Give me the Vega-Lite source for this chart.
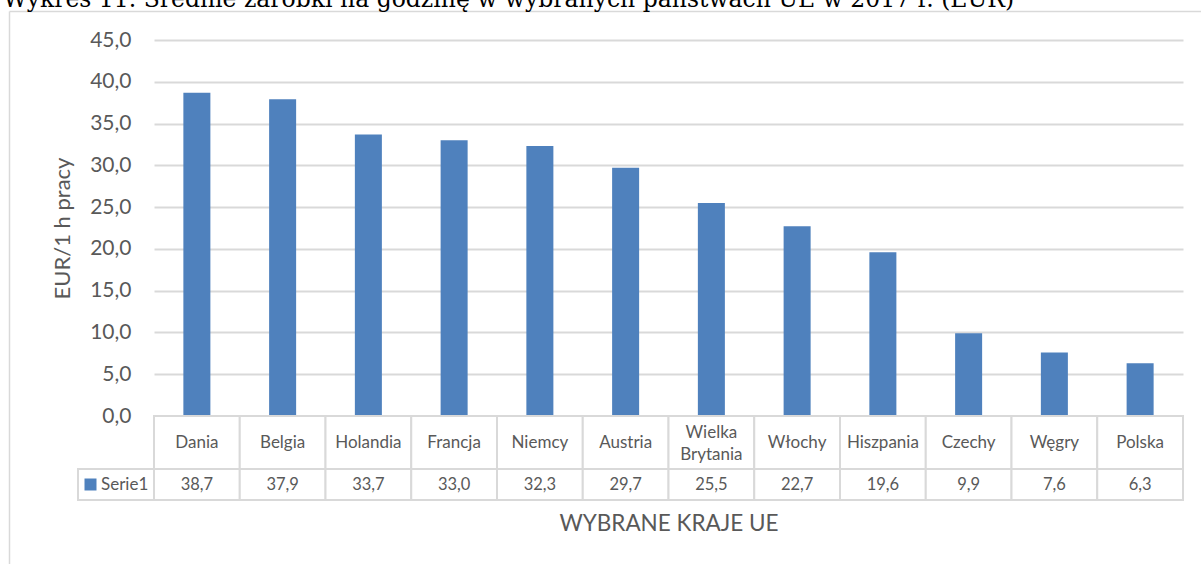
{
  "$schema": "https://vega.github.io/schema/vega-lite/v6.json",
  "width": 1029,
  "height": 376,
  "autosize": {"type": "none"},
  "padding": {"left": 154, "top": 40, "right": 18, "bottom": 148},
  "background": "white",
  "config": {
    "font": "Lato",
    "view": {"stroke": null},
    "locale": {"number": {"decimal": ",", "thousands": " ", "grouping": [3], "currency": ["", " €"]}}
  },
  "title": {
    "text": "Wykres 11. Średnie zarobki na godzinę w wybranych państwach UE w 2017 r. (EUR)",
    "font": "DejaVu Serif",
    "fontSize": 23.5,
    "fontWeight": "normal",
    "color": "#000000",
    "anchor": "start",
    "frame": "group",
    "baseline": "alphabetic",
    "dx": -151,
    "dy": 25,
    "offset": 3
  },
  "data": {
    "values": [
      {"kraj": "Dania", "wartosc": 38.7, "seria": "Serie1"},
      {"kraj": "Belgia", "wartosc": 37.9, "seria": "Serie1"},
      {"kraj": "Holandia", "wartosc": 33.7, "seria": "Serie1"},
      {"kraj": "Francja", "wartosc": 33.0, "seria": "Serie1"},
      {"kraj": "Niemcy", "wartosc": 32.3, "seria": "Serie1"},
      {"kraj": "Austria", "wartosc": 29.7, "seria": "Serie1"},
      {"kraj": "Wielka Brytania", "wartosc": 25.5, "seria": "Serie1"},
      {"kraj": "Włochy", "wartosc": 22.7, "seria": "Serie1"},
      {"kraj": "Hiszpania", "wartosc": 19.6, "seria": "Serie1"},
      {"kraj": "Czechy", "wartosc": 9.9, "seria": "Serie1"},
      {"kraj": "Węgry", "wartosc": 7.6, "seria": "Serie1"},
      {"kraj": "Polska", "wartosc": 6.3, "seria": "Serie1"}
    ]
  },
  "resolve": {"scale": {"x": "independent", "y": "independent", "color": "independent"}},
  "layer": [
    {
      "mark": {"type": "point", "opacity": 0},
      "data": {"values": [{"seria": "Serie1"}]},
      "encoding": {
        "x": {"datum": 0, "type": "quantitative", "scale": {"domain": [0, 1], "range": [-145, 1100]},
          "axis": {"orient": "top", "offset": 29, "labels": false, "ticks": false, "grid": false, "domainColor": "#d9d9d9", "domainWidth": 1.5, "title": null}},
        "y": {"datum": 0, "type": "quantitative", "scale": {"domain": [0, 1], "range": [-29, 600]},
          "axis": {"orient": "left", "offset": 145, "labels": false, "ticks": false, "grid": false, "domainColor": "#d9d9d9", "domainWidth": 1.5, "title": null}}
      }
    },
    {
      "mark": {"type": "bar", "width": {"band": 0.315}},
      "encoding": {
        "x": {"field": "kraj", "type": "nominal", "sort": null, "scale": {"type": "band", "paddingInner": 0, "paddingOuter": 0}, "axis": null},
        "y": {"field": "wartosc", "type": "quantitative", "scale": {"domain": [0, 45]},
          "axis": {"orient": "left", "values": [0, 5, 10, 15, 20, 25, 30, 35, 40, 45], "format": ".1f", "grid": true, "gridColor": "#d9d9d9", "gridWidth": 2,
            "domain": false, "ticks": false, "labelFontSize": 21, "labelColor": "#595959", "labelPadding": 23,
            "title": "EUR/1 h pracy", "titleFontSize": 22, "titleFontWeight": "normal", "titleColor": "#595959", "titlePadding": 15}},
        "color": {"field": "seria", "type": "nominal", "scale": {"range": ["#4f81bd"]},
          "legend": {"orient": "none", "legendX": -72, "legendY": 436, "title": null, "padding": 0, "symbolType": "square", "symbolSize": 144,
            "symbolStrokeWidth": 0, "labelFontSize": 17, "labelColor": "#595959", "labelOffset": 2}}
      }
    },
    {
      "mark": {"type": "rect", "fill": "white", "stroke": "#d9d9d9", "strokeWidth": 2},
      "encoding": {
        "x": {"field": "kraj", "type": "nominal", "sort": null, "scale": {"type": "band", "paddingInner": 0, "paddingOuter": 0},
          "axis": {"orient": "bottom", "labels": false, "ticks": false, "domain": false, "grid": false, "title": "WYBRANE KRAJE UE",
            "titleFontSize": 22.5, "titleFontWeight": "normal", "titleColor": "#595959", "titlePadding": 96}},
        "y": {"datum": "kraj", "type": "nominal", "scale": {"type": "band", "domain": ["kraj"], "range": [376, 429], "paddingInner": 0, "paddingOuter": 0}, "axis": null}
      }
    },
    {
      "transform": [{"filter": "indexof(datum.kraj, ' ') < 0"}],
      "mark": {"type": "text", "fontSize": 17, "color": "#595959", "baseline": "middle"},
      "encoding": {
        "x": {"field": "kraj", "type": "nominal", "sort": null, "scale": {"type": "band", "domain": ["Dania", "Belgia", "Holandia", "Francja", "Niemcy", "Austria", "Wielka Brytania", "Włochy", "Hiszpania", "Czechy", "Węgry", "Polska"], "paddingInner": 0, "paddingOuter": 0}, "axis": null},
        "y": {"datum": "kraj", "type": "nominal", "scale": {"type": "band", "domain": ["kraj"], "range": [376, 429], "paddingInner": 0, "paddingOuter": 0}, "axis": null},
        "text": {"field": "kraj"}
      }
    },
    {
      "transform": [{"filter": "indexof(datum.kraj, ' ') >= 0"}],
      "mark": {"type": "text", "fontSize": 17, "color": "#595959", "baseline": "middle", "lineBreak": " ", "lineHeight": 22, "dy": -10},
      "encoding": {
        "x": {"field": "kraj", "type": "nominal", "sort": null, "scale": {"type": "band", "domain": ["Dania", "Belgia", "Holandia", "Francja", "Niemcy", "Austria", "Wielka Brytania", "Włochy", "Hiszpania", "Czechy", "Węgry", "Polska"], "paddingInner": 0, "paddingOuter": 0}, "axis": null},
        "y": {"datum": "kraj", "type": "nominal", "scale": {"type": "band", "domain": ["kraj"], "range": [376, 429], "paddingInner": 0, "paddingOuter": 0}, "axis": null},
        "text": {"field": "kraj"}
      }
    },
    {
      "mark": {"type": "rect", "fill": "white", "stroke": "#d9d9d9", "strokeWidth": 2},
      "encoding": {
        "x": {"field": "kraj", "type": "nominal", "sort": null, "scale": {"type": "band", "paddingInner": 0, "paddingOuter": 0}, "axis": null},
        "y": {"datum": "wartosc", "type": "nominal", "scale": {"type": "band", "domain": ["wartosc"], "range": [429, 460], "paddingInner": 0, "paddingOuter": 0}, "axis": null}
      }
    },
    {
      "mark": {"type": "text", "fontSize": 16.5, "color": "#595959", "baseline": "middle"},
      "encoding": {
        "x": {"field": "kraj", "type": "nominal", "sort": null, "scale": {"type": "band", "paddingInner": 0, "paddingOuter": 0}, "axis": null},
        "y": {"datum": "wartosc", "type": "nominal", "scale": {"type": "band", "domain": ["wartosc"], "range": [429, 460], "paddingInner": 0, "paddingOuter": 0}, "axis": null},
        "text": {"field": "wartosc", "type": "quantitative", "format": ".1f"}
      }
    },
    {
      "mark": {"type": "rect", "fill": "white", "stroke": "#d9d9d9", "strokeWidth": 2},
      "data": {"values": [{"seria": "Serie1"}]},
      "encoding": {
        "x": {"field": "seria", "type": "nominal", "scale": {"type": "band", "domain": ["Serie1"], "range": [-76, 0], "paddingInner": 0, "paddingOuter": 0}, "axis": null},
        "y": {"datum": "wartosc", "type": "nominal", "scale": {"type": "band", "domain": ["wartosc"], "range": [429, 460], "paddingInner": 0, "paddingOuter": 0}, "axis": null}
      }
    }
  ]
}
